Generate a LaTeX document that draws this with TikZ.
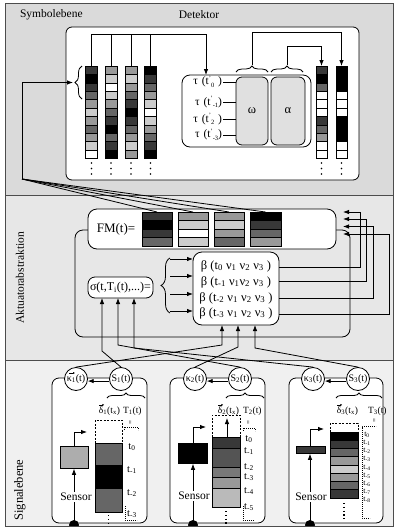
\documentclass[tikz,border=0pt]{standalone}
\usepackage{fontspec}
\setmainfont{Liberation Serif}
\usetikzlibrary{arrows.meta,decorations.pathreplacing,calc}
\definecolor{cW}{gray}{1}
\definecolor{cL}{gray}{0.8}
\definecolor{cG}{gray}{0.6}
\definecolor{cM}{gray}{0.4}
\definecolor{cD}{gray}{0.22}
\definecolor{cK}{gray}{0}
\definecolor{cE}{gray}{0.88}
\definecolor{cFive}{gray}{0.33}
\definecolor{cSeven}{gray}{0.47}
\definecolor{cBb}{gray}{0.73}
\definecolor{cSen}{gray}{0.68}
\definecolor{pA}{gray}{0.855}
\definecolor{pB}{gray}{0.905}
\definecolor{pC}{gray}{0.94}
\newcommand\ssb[2]{t\raisebox{4.5pt}{\fontsize{6.5}{7}\selectfont #1}\raisebox{-2.8pt}{\fontsize{6.5}{7}\selectfont #2}}
\newcommand\colbar[5]{\foreach \cc [count=\ii from 0] in {#5} {\filldraw[fill=\cc,draw=black,line width=0.6pt] (#1,{#3+\ii*#4}) rectangle (#2,{#3+(\ii+1)*#4});}}
\newcommand\vdts[2]{\foreach \dd in {0,5.5,11}{\fill (#1,{#2+\dd}) circle (0.9);}}
\newcommand\bx[6]{\node[#6, anchor=north west, minimum width={#4pt-#2pt}, minimum height={#5pt-#3pt}, inner sep=0pt, outer sep=0pt] (#1) at (#2,#3) {};}
\begin{document}
\begin{tikzpicture}[x=1pt,y=-1pt, font=\fontsize{11.5}{12}\selectfont,
 rbox/.style={draw=black, line width=0.8pt, rounded corners=#1, fill=white}, rbox/.default=6pt,
 ln/.style={draw=black,line width=0.8pt},
 arr/.style={ln,-{Latex[length=6pt,width=4.5pt]}},
 vecarr/.style={draw=black,line width=0.5pt,-{Latex[length=2pt,width=2pt]}},
 brc/.style={ln, decorate, decoration={brace, amplitude=#1}},
 circ/.style={circle, draw=black, line width=0.8pt, fill=white, minimum size=23pt, inner sep=0pt, font=\fontsize{10}{10}\selectfont},
 dsh/.style={draw=black, line width=0.7pt, dash pattern=on 2pt off 1.5pt},
 dtd/.style={draw=black, line width=0.6pt, dash pattern=on 0.8pt off 1.2pt},
 dts/.style={draw=black, line width=1.3pt, dash pattern=on 1.2pt off 2.6pt},
 lbl/.style={inner sep=0pt, outer sep=0pt},
 sm/.style={font=\fontsize{10.5}{11}\selectfont},
 dl/.style={lbl, font=\fontsize{9.5}{10}\selectfont},
 tn/.style={lbl, font=\fontsize{7.8}{8}\selectfont},
]
\useasboundingbox (0,0) rectangle (395,528);
\begin{scope}
\clip (5,3) rectangle (393,526);
\fill[pA] (5,3) rectangle (393,195);
\fill[pB] (5,195) rectangle (393,360);
\fill[pC] (5,360) rectangle (393,526);
\draw[line width=0.8pt, draw=black!70] (5,195) -- (393,195) (5,360) -- (393,360);

% ---------------- Symbolebene
\node[lbl, anchor=west] (symlbl) at (20,15) {Symbolebene};
\node[lbl] (detlbl) at (199,15) {Detektor};
\bx{det}{66}{27}{359}{180}{rbox=6pt}

\colbar{85.5}{97.5}{66}{8.4}{cD,cK,cD,cM,cG,cL,cG,cM,cG,cL,cW}
\colbar{105}{117}{66}{8.4}{cG,cL,cW,cL,cG,cM,cD,cK,cM,cD,cK}
\colbar{125}{137}{66}{8.4}{cG,cL,cG,cM,cD,cK,cD,cM,cG,cL,cG}
\colbar{144.5}{156.5}{66}{8.4}{cK,cD,cM,cG,cL,cW,cL,cG,cM,cD,cK}
\colbar{316}{327}{66}{8.4}{cD,cK,cM,cW,cW,cW,cD,cM,cG,cW,cW}
\colbar{336}{347}{66}{8.4}{cK,cK,cK,cW,cW,cW,cK,cK,cK,cW,cW}
\vdts{91.5}{163}\vdts{111}{163}\vdts{131}{163}\vdts{150.5}{163}
\vdts{321.5}{163}\vdts{341.5}{163}

\coordinate (c1t) at (91.5,66);
\coordinate (c2t) at (111,66);
\coordinate (c3t) at (131,66);
\coordinate (c4t) at (150.5,66);
\coordinate (topbus) at (206,34);
\coordinate (tauin) at (206,75);
\draw[arr] (c1t) |- (topbus) -- (tauin);
\draw[ln] (c2t) -- (c2t |- topbus);
\draw[ln] (c3t) -- (c3t |- topbus);
\draw[ln] (c4t) -- (c4t |- topbus);

\bx{tau}{182}{75}{311}{147}{rbox=8pt}
\bx{om}{236}{77}{268}{145}{rbox=6pt, fill=cE}
\bx{al}{271}{77}{305}{145}{rbox=6pt, fill=cE}
\node[lbl, font=\fontsize{12.5}{13}\selectfont] (omlbl) at (om) {ω};
\node[lbl, font=\fontsize{12.5}{13}\selectfont] (allbl) at (al) {α};
\node[lbl, anchor=east] (r0) at (222,82) {τ\,\,(\ssb{'}{0}\,\,)};
\node[lbl, anchor=east] (r1) at (222,102) {τ\,\,(\ssb{'}{-1})};
\node[lbl, anchor=east] (r2) at (222,119) {τ\,\,(\ssb{'}{2}\,\,)};
\node[lbl, anchor=east] (r3) at (222,135) {τ\,\,(\ssb{'}{-3})};
\foreach \r in {r0,r1,r2,r3} {\draw[ln] (\r.east) ++(1,0) -- (om.west |- \r.east);}

\draw[brc=6pt] (236,72) -- (268,72);
\draw[brc=6pt] (271,72) -- (303,72);
\coordinate (omtip) at (252,65);
\coordinate (altip) at (287,65);
\coordinate (rbA) at (321.5,66);
\coordinate (rbB) at (341.5,66);
\draw[arr] (omtip) |- ($(rbB)+(0,-34)$) -- (rbB);
\draw[arr] (altip) |- ($(rbA)+(0,-20)$) -- (rbA);

\draw[brc=7pt] (82,99) -- (82,66);
\coordinate (cbtip) at (73,82.5);
\coordinate (fb) at (22,179);
\draw[arr] (fb) |- (cbtip);

% ---------------- Aktuatorabstraktion
\node[lbl, rotate=90] (aktlbl) at (20,278) {Aktuatorabstraktion};
\bx{big}{75}{230}{350}{337}{rbox=8pt, fill=none}
\bx{fm}{88}{209}{336}{249}{rbox=9pt}
\node[lbl, font=\fontsize{13}{13}\selectfont] (fmlbl) at (116,229) {FM(t)=};
\colbar{142}{172}{212}{8.5}{cD,cK,cD,cM}
\colbar{178}{208}{212}{8.5}{cG,cL,cW,cL}
\colbar{214}{244}{212}{8.5}{cG,cL,cG,cM}
\colbar{250}{281}{212}{8.5}{cK,cD,cM,cG}
\coordinate (f1) at (157,212);
\coordinate (f2) at (193,212);
\coordinate (f3) at (229,212);
\coordinate (f4) at (265.5,212);
\foreach \f in {f1,f2,f3,f4} {\draw[ln] (fb) -- (\f);}

\bx{sig}{88}{277}{153}{298}{rbox=7pt}
\node[lbl, font=\fontsize{12}{12}\selectfont] (siglbl) at (sig) {σ(t,T\textsubscript{i}(t),...)=};
\draw[brc=9pt] (170,313) -- (170,258);
\bx{beta}{193}{252}{279}{325}{rbox=9pt}
\foreach \y [count=\k] in {259,276,294,311} {
  \coordinate (bi\k) at (170,\y);
  \draw[arr] (bi\k) -- (beta.west |- bi\k);
}
\begin{scope}[every node/.style={lbl, font=\fontsize{12.5}{13}\selectfont}]
\node (b1) at (236,266) {β (t\textsubscript{0} ν\textsubscript{1} ν\textsubscript{2} ν\textsubscript{3} )};
\node (b2) at (236,282) {β (t\textsubscript{-1} ν\textsubscript{1}ν\textsubscript{2} ν\textsubscript{3} )};
\node (b3) at (236,298) {β (t\textsubscript{-2} ν\textsubscript{1} ν\textsubscript{2} ν\textsubscript{3} )};
\node (b4) at (236,313) {β (t\textsubscript{-3} ν\textsubscript{1} ν\textsubscript{2} ν\textsubscript{3} )};
\end{scope}
\foreach \ry/\vx/\ay [count=\k] in {267/360/212, 281/366/219, 298/373/226.5, 314/389/234} {
  \coordinate (ro\k) at (279,\ry);
  \coordinate (vv\k) at (\vx,\ay);
  \coordinate (aa\k) at (343,\ay);
  \draw[arr] (ro\k) -| (vv\k) -- (aa\k);
}

\coordinate (sg1) at (102,298);
\coordinate (sg2) at (118,298);
\coordinate (sg3) at (134,298);
\coordinate (bt1) at (222,325);
\coordinate (bt2) at (238,325);
\coordinate (bt3) at (255,325);

% ---------------- Signalebene
\node[lbl, rotate=90, font=\fontsize{12.5}{13}\selectfont] (siglbl2) at (20,490) {Signalebene};
\bx{sb1}{52}{378}{147}{523}{rbox=7pt}
\bx{sb2}{170}{378}{265}{523}{rbox=7pt}
\bx{sb3}{289}{378}{383}{523}{rbox=7pt}

\node[circ] (K1) at (76,379) {κ\textsubscript{1}(t)};
\node[circ] (S1) at (121,379) {S\textsubscript{1}(t)};
\node[circ] (K2) at (195,379) {κ\textsubscript{2}(t)};
\node[circ] (S2) at (240,379) {S\textsubscript{2}(t)};
\node[circ] (K3) at (313,379) {κ\textsubscript{3}(t)};
\node[circ] (S3) at (358,379) {S\textsubscript{3}(t)};
\draw[vecarr] (69,373) -- (75,373);
\draw[arr] (S1.190) -- (K1.350);
\draw[arr] (S2.190) -- (K2.350);
\draw[arr] (S3.190) -- (K3.350);

\draw[arr] (S1.north) -- (102,351) -- (sg1);
\draw[arr] (S2.north) -- (118,345) -- (sg2);
\draw[arr] (K3.north) -- (134,348) -- (sg3);
\draw[arr] (K1.north) -- (222,345) -- (bt1);
\draw[arr] (K2.north) -- (238,347) -- (bt2);
\draw[arr] (S3.north) -- (255,348) -- (bt3);

\draw[brc=5pt] (107,398) -- (145,398);
\draw[brc=5pt] (226,398) -- (264,398);
\draw[brc=5pt] (336,398) -- (382,398);

\node[dl, anchor=east] (d1) at (120,411) {δ\textsubscript{1}(t\textsubscript{x})};
\node[dl, anchor=west] (T1) at (123,411) {T\textsubscript{1}(t)};
\node[dl, anchor=east] (d2) at (239,411) {δ\textsubscript{2}(t\textsubscript{x})};
\node[dl, anchor=west] (T2) at (243,411) {T\textsubscript{2}(t)};
\node[dl, anchor=east] (d3) at (358,411) {δ\textsubscript{3}(t\textsubscript{x})};
\node[dl, anchor=west] (T3) at (368,411) {T\textsubscript{3}(t)};
\foreach \d in {d1,d2,d3} {\draw[vecarr] ($(\d.north west)+(0.5,-1.8)$) -- ++(5,0);}
\node[lbl, rotate=90, font=\fontsize{7}{7}\selectfont] (e1) at (131,423) {=};
\node[lbl, rotate=90, font=\fontsize{7}{7}\selectfont] (e2) at (249,423) {=};
\node[lbl, rotate=90, font=\fontsize{7}{7}\selectfont] (e3) at (375,421) {=};
\draw[dtd] (124,430) -- (124,427) -- (138,427) -- (138,430);
\draw[dtd] (243,431) -- (243,428) -- (255,428) -- (255,431);
\draw[dtd] (362,428) -- (362,426) -- (376,426);
\draw[dtd] (125,506) -- (125,520) -- (137,520);
\draw[dtd] (243,506) -- (243,520) -- (254,520);
\draw[dtd] (362,428) -- (362,518) -- (370,518);

% placeholders and bars
\draw[dsh] (95,443) -- (95,420) -- (122,420) -- (122,443);
\draw[dsh] (212,437) -- (212,415) -- (240,415) -- (240,437);
\draw[dsh] (330,432) -- (330,423) -- (358,423) -- (358,432);
\filldraw[fill=cM, line width=0.7pt] (95,443) rectangle (122,465);
\filldraw[fill=cK, line width=0.7pt] (95,465) rectangle (122,488);
\filldraw[fill=cM, line width=0.7pt] (95,488) rectangle (122,512);
\filldraw[fill=cD, line width=0.7pt] (212,437) rectangle (240,448);
\filldraw[fill=cFive, line width=0.7pt] (212,448) rectangle (240,467);
\filldraw[fill=cSeven, line width=0.7pt] (212,467) rectangle (240,477);
\filldraw[fill=cG, line width=0.7pt] (212,477) rectangle (240,488);
\filldraw[fill=cBb, line width=0.7pt] (212,488) rectangle (240,507);
\colbar{330}{358}{432}{8.25}{cK,cD,cM,cG,cL,cG,cM,cD}
\coordinate (b2top) at (227,437);
\coordinate (b2in) at (227,418);
\draw[arr] (b2top) -- (b2in);
\draw[dts] (108.5,515) -- (108.5,525);
\draw[dts] (226,511) -- (226,525);
\draw[dts] (344,503) -- (344,520);

\begin{scope}[every node/.style={lbl, sm}]
\node (a10) at (132,447) {t\textsubscript{0}};
\node (a11) at (132,470) {t\textsubscript{-1}};
\node (a12) at (132,493) {t\textsubscript{-2}};
\node (a13) at (132,514) {t\textsubscript{-3}};
\node (a20) at (249,439) {t\textsubscript{0}};
\node (a21) at (249,451) {t\textsubscript{-1}};
\node (a22) at (249,467) {t\textsubscript{-2}};
\node (a23) at (249,477) {t\textsubscript{-3}};
\node (a24) at (249,491) {t\textsubscript{-4}};
\node (a25) at (249,507) {t\textsubscript{-5}};
\end{scope}
\foreach \k in {0,...,8} {
  \ifnum\k=0 \node[tn] (a3\k) at (367,{435+8.1*\k}) {t\textsubscript{0}};
  \else \node[tn] (a3\k) at (367,{435+8.1*\k}) {t\textsubscript{-\k}};\fi
}

% sensors
\node[draw=black, line width=0.8pt, fill=cSen, anchor=north west, minimum width=28pt, minimum height=22pt, inner sep=0pt] (sen1) at (60,446) {};
\node[draw=black, line width=0.8pt, fill=black, anchor=north west, minimum width=29pt, minimum height=20pt, inner sep=0pt] (sen2) at (178,443) {};
\node[draw=black, line width=0.8pt, fill=cD, anchor=north west, minimum width=29pt, minimum height=7pt, inner sep=0pt] (sen3) at (296,446) {};
\coordinate (dot1) at (74,525);
\coordinate (dot2) at (193,525);
\coordinate (dot3) at (310,525);
\draw[arr] (dot1) -- (sen1.south -| dot1);
\draw[arr] (dot2) -- (sen2.south -| dot2);
\draw[arr] (dot3) -- (sen3.south -| dot3);
\draw[arr] (sen1.north -| dot1) -- (74,432) -- (87,432);
\draw[arr] (sen2.north -| dot2) -- (193,427) -- (206,427);
\draw[arr] (sen3.north -| dot3) -- (310,429) -- (324,429);
\fill (dot1) circle (5);
\fill (dot2) circle (5);
\fill (dot3) circle (5);
\node[lbl, fill=white, inner sep=0.8pt] (st1) at (76,497) {Sensor};
\node[lbl, fill=white, inner sep=0.8pt] (st2) at (194,496) {Sensor};
\node[lbl, fill=white, inner sep=0.8pt] (st3) at (311,497) {Sensor};
\end{scope}
\draw[line width=1pt, black!70] (5,3) rectangle (393,526);
\end{tikzpicture}
\end{document}
